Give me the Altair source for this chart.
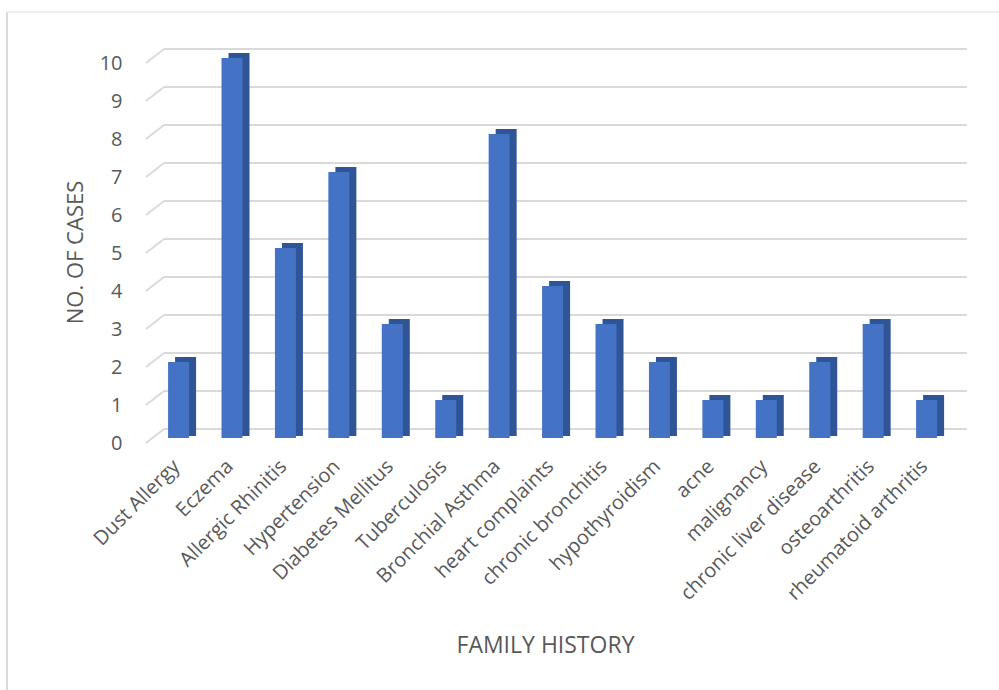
import altair as alt
import pandas as pd

categories = ["Dust Allergy", "Eczema", "Allergic Rhinitis", "Hypertension",
              "Diabetes Mellitus", "Tuberculosis", "Bronchial Asthma",
              "heart complaints", "chronic bronchitis", "hypothyroidism",
              "acne", "malignancy", "chronic liver disease", "osteoarthritis",
              "rheumatoid arthritis"]
cases = [2, 10, 5, 7, 3, 1, 8, 4, 3, 2, 1, 1, 2, 3, 1]
y_ticks = list(range(0, 11))

df = pd.DataFrame({"cat": categories, "n": cases, "zero": [0] * len(cases)})
grid_df = pd.DataFrame({"v": y_ticks})

FONT = "Open Sans"
TXT = "#595959"
W, H = 821, 380

xs = alt.Scale(domain=categories, paddingInner=0, paddingOuter=0.183, align=0.3)
ys = alt.Scale(domain=[0, 10], nice=False)

axis_y = alt.Axis(values=y_ticks, grid=False, domain=False, ticks=False,
                  labelFont=FONT, labelFontSize=20, labelColor=TXT, labelPadding=24,
                  title="NO. OF CASES", titleFont=FONT, titleFontSize=22,
                  titleFontWeight="normal", titleColor=TXT,
                  titleX=-71, titleY=H / 2 - 1, titleAlign="center", titleBaseline="middle", titleAngle=-90)

axis_x = alt.Axis(labelAngle=-45, domain=False, ticks=False, labelPadding=20,
                  labelFont=FONT, labelFontSize=20, labelColor=TXT, labelLimit=0,
                  labelAlign="right", labelBaseline="middle", labelOffset=-2,
                  title="FAMILY HISTORY", titleFont=FONT, titleFontSize=23,
                  titleFontWeight="normal", titleColor=TXT,
                  titleX=399, titleY=202, titleAlign="center", titleBaseline="middle")

# back-wall gridlines
grid_back = alt.Chart(grid_df).mark_rule(color="#d9d9d9", strokeWidth=2, yOffset=-14).encode(
    x=alt.value(18), x2=alt.value(W), y=alt.Y("v:Q", scale=ys, axis=axis_y)
)
# side-wall diagonals
grid_side = alt.Chart(grid_df).mark_rule(color="#d9d9d9", strokeWidth=2, y2Offset=-14).encode(
    x=alt.value(0), x2=alt.value(18), y=alt.Y("v:Q", scale=ys, axis=axis_y), y2="v:Q"
)

# side / top face (darker) shifted back
side = alt.Chart(df).mark_bar(color="#2f5597", width=21, xOffset=7, yOffset=-10, y2Offset=-7).encode(
    x=alt.X("cat:N", scale=xs, sort=categories, axis=axis_x),
    y=alt.Y("n:Q", scale=ys, axis=axis_y),
    y2="zero:Q",
)
# front face
front = alt.Chart(df).mark_bar(color="#4472c4", width=21, yOffset=-5, y2Offset=-5).encode(
    x=alt.X("cat:N", scale=xs, sort=categories, axis=axis_x),
    y=alt.Y("n:Q", scale=ys, axis=axis_y),
    y2="zero:Q",
)

frame_left = alt.Chart(grid_df).mark_rule(color="#d9d9d9", strokeWidth=2).encode(
    x=alt.value(-139), y=alt.value(-51), y2=alt.value(H + 300)
)
frame_top = alt.Chart(grid_df).mark_rule(color="#eeeeee", strokeWidth=1).encode(
    x=alt.value(-139), x2=alt.value(W + 60), y=alt.value(-51)
)

chart = alt.layer(frame_left, frame_top, grid_back, grid_side, side, front).properties(
    width=W, height=H,
    autosize=alt.AutoSizeParams(type="none"),
    padding={"left": 146, "top": 63, "right": 32, "bottom": 247},
    background="white",
).configure_view(stroke=None)

chart.save("out.html", embed_options={"renderer": "svg", "actions": False})
